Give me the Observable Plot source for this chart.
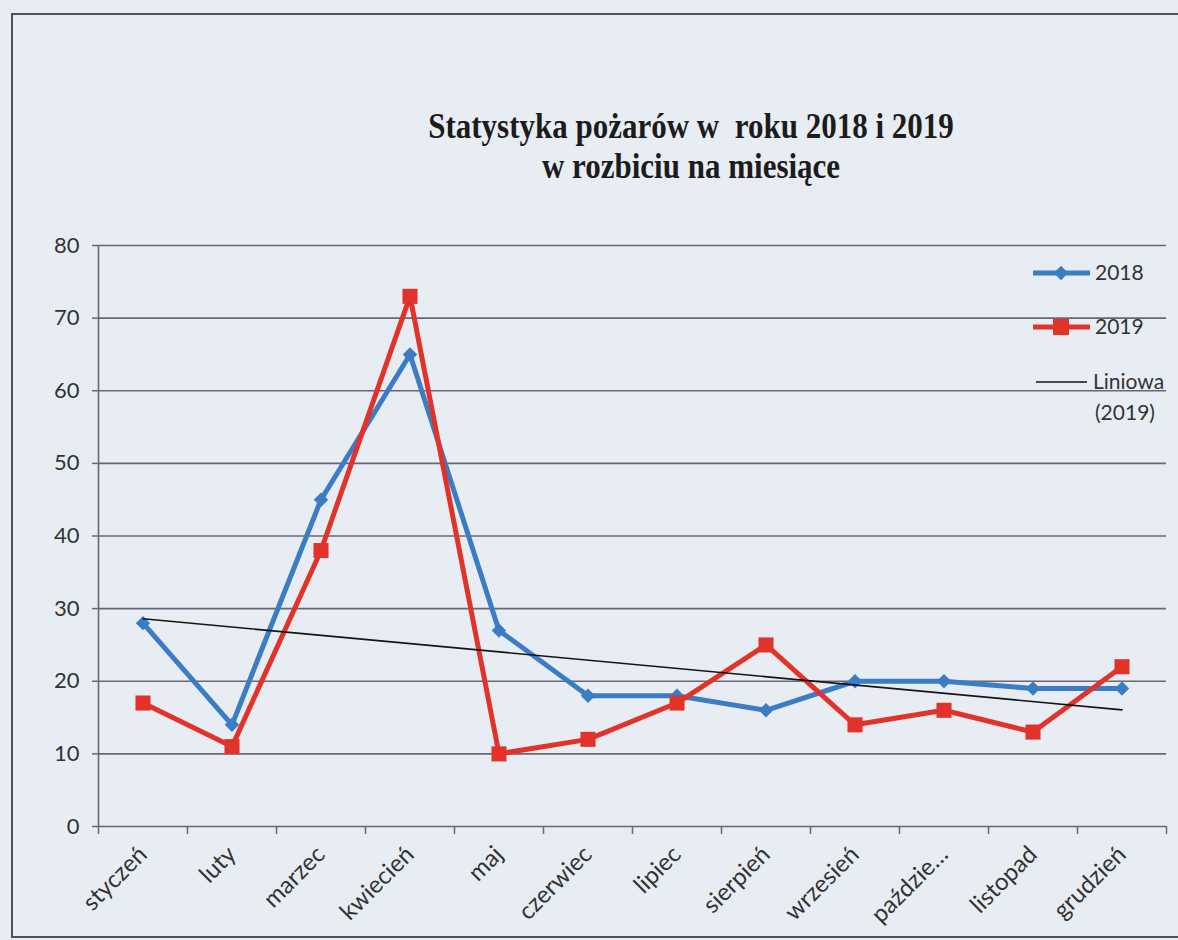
<!DOCTYPE html>
<html>
<head>
<meta charset="utf-8">
<script src="https://cdn.jsdelivr.net/npm/d3@7"></script>
<script src="https://cdn.jsdelivr.net/npm/@observablehq/plot@0.6"></script>
<style>
  html, body { margin: 0; padding: 0; background: #e8edf4; }
  #wrap { position: relative; width: 1178px; height: 940px; overflow: hidden; background: #e8edf4; }
  #frame { position: absolute; left: 11px; top: 13px; width: 1200px; height: 921px;
           border-left: 2px solid #4d525a; border-top: 2px solid #4d525a; border-bottom: 2px solid #4d525a; }
  #title { position: absolute; left: 691px; top: 106px; transform: translateX(-50%) scaleY(1.15);
           transform-origin: 50% 0;
           font-family: "Liberation Serif", "Times New Roman", serif; font-weight: bold;
           font-size: 31px; line-height: 35px; text-align: center; color: #1c1c1c; white-space: pre; }
  #chart { position: absolute; left: 0; top: 200px; }
  #legend { position: absolute; left: 1000px; top: 240px; }
</style>
</head>
<body>
<div id="wrap">
  <div id="frame"></div>
  <div id="title">Statystyka pożarów w  roku 2018 i 2019
w rozbiciu na miesiące</div>
  <div id="chart"></div>
  <div id="legend"></div>
</div>
<script>
// ---- data ----
const months = ["styczeń", "luty", "marzec", "kwiecień", "maj", "czerwiec",
                "lipiec", "sierpień", "wrzesień", "październik", "listopad", "grudzień"];
const monthTickLabels = ["styczeń", "luty", "marzec", "kwiecień", "maj", "czerwiec",
                "lipiec", "sierpień", "wrzesień", "paździe…", "listopad", "grudzień"];
const fires2018 = [28, 14, 45, 65, 27, 18, 18, 16, 20, 20, 19, 19];
const fires2019 = [17, 11, 38, 73, 10, 12, 17, 25, 14, 16, 13, 22];
const yTicks = [0, 10, 20, 30, 40, 50, 60, 70, 80];
const seriesNames = ["2018", "2019", "Liniowa\n(2019)"];

const blue = "#3b7dc5";
const red = "#e2332a";
const grid = "#68667a";
const font = "Lato, 'Open Sans', sans-serif";

const idx = months.map((_, i) => i + 1);
const bounds = [0.5, ...idx.map(i => i + 0.5)];
const rows2018 = months.map((m, i) => ({i: i + 1, month: m, v: fires2018[i]}));
const rows2019 = months.map((m, i) => ({i: i + 1, month: m, v: fires2019[i]}));

const chart = Plot.plot({
  width: 1178,
  height: 740,
  marginLeft: 98,
  marginRight: 12,
  marginTop: 45,
  marginBottom: 114,
  style: {background: "transparent", fontFamily: font, fontSize: "22px", color: "#333"},
  x: {domain: [0.5, 12.5], axis: null},
  y: {domain: [0, 80], axis: null},
  marks: [
    Plot.ruleY(yTicks, {stroke: grid, strokeWidth: 1.6}),
    Plot.ruleX([0.5], {y1: 0, y2: 80, stroke: grid, strokeWidth: 1.6}),
    Plot.axisY({ticks: yTicks, tickSize: 6, tickPadding: 13, stroke: grid, strokeWidth: 1.5,
                fill: "#333", fontSize: 22, label: null}),
    Plot.axisX({ticks: bounds, tickSize: 8, tickFormat: () => "", stroke: grid, strokeWidth: 1.5, label: null}),
    Plot.axisX({ticks: idx, tickSize: 0, tickPadding: 24, tickRotate: -45,
                tickFormat: i => monthTickLabels[i - 1], fill: "#333", fontSize: 24, label: null}),
    Plot.line(rows2018, {x: "i", y: "v", stroke: blue, strokeWidth: 5, strokeLinejoin: "round"}),
    Plot.dot(rows2018, {x: "i", y: "v", symbol: "diamond2", r: 6.5, fill: blue, stroke: null}),
    Plot.line(rows2019, {x: "i", y: "v", stroke: red, strokeWidth: 5, strokeLinejoin: "round"}),
    Plot.dot(rows2019, {x: "i", y: "v", symbol: "square", r: 8.5, fill: red, stroke: null}),
    Plot.linearRegressionY(rows2019, {x: "i", y: "v", ci: 0, stroke: "#151515", strokeWidth: 1.6})
  ]
});
document.getElementById("chart").appendChild(chart);

// ---- legend ----
const lg = d3.select("#legend").append("svg").attr("width", 178).attr("height", 200)
  .style("font-family", font).style("font-size", "21px");
// 2018
lg.append("line").attr("x1", 33).attr("x2", 90).attr("y1", 33).attr("y2", 33)
  .attr("stroke", blue).attr("stroke-width", 5);
lg.append("path").attr("d", d3.symbol(d3.symbolDiamond2, 130)()).attr("transform", "translate(61,33)").attr("fill", blue);
lg.append("text").attr("x", 95).attr("y", 33).attr("dy", "0.35em").attr("fill", "#333").text(seriesNames[0]);
// 2019
lg.append("line").attr("x1", 33).attr("x2", 90).attr("y1", 87).attr("y2", 87)
  .attr("stroke", red).attr("stroke-width", 5);
lg.append("rect").attr("x", 53).attr("y", 79).attr("width", 16).attr("height", 16).attr("fill", red);
lg.append("text").attr("x", 95).attr("y", 87).attr("dy", "0.35em").attr("fill", "#333").text(seriesNames[1]);
// trend
lg.append("line").attr("x1", 36).attr("x2", 87).attr("y1", 142).attr("y2", 142)
  .attr("stroke", "#151515").attr("stroke-width", 1.6);
const tl = seriesNames[2].split("\n");
lg.append("text").attr("x", 93).attr("y", 142).attr("dy", "0.35em").attr("fill", "#333").text(tl[0]);
lg.append("text").attr("x", 95).attr("y", 173).attr("dy", "0.35em").attr("fill", "#333").text(tl[1]);
</script>
</body>
</html>
